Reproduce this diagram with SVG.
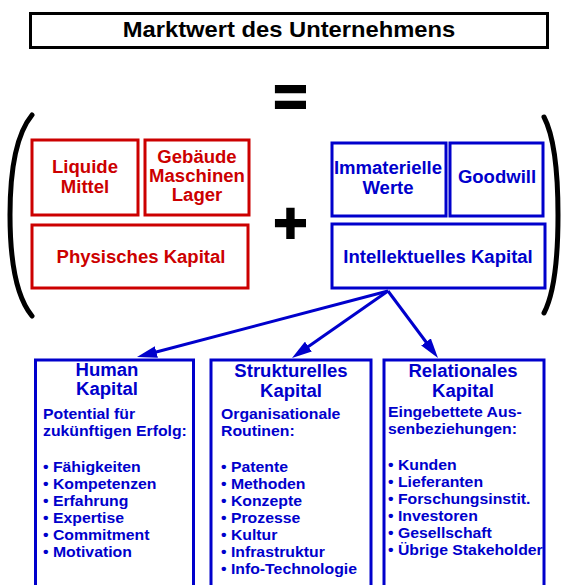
<svg xmlns="http://www.w3.org/2000/svg" width="562" height="585" viewBox="0 0 562 585">
  <style>
    text { font-family: "Liberation Sans", Arial, sans-serif; font-weight: bold; }
    .box-red { fill: #fff; stroke: #cc0000; stroke-width: 3; }
    .box-blue { fill: #fff; stroke: #0000cc; stroke-width: 3; }
    .lbl-red { fill: #cc0000; font-size: 17.5px; text-anchor: middle; }
    .lbl-blue { fill: #0000cc; font-size: 17.5px; text-anchor: middle; }
    .head { fill: #0000cc; font-size: 17.5px; text-anchor: middle; }
    .body { fill: #0000cc; font-size: 14.5px; }
    .paren { fill: none; stroke: #000; stroke-width: 5; stroke-linecap: round; }
    .op { fill: #000; stroke: #000; stroke-width: 2; font-size: 58px; text-anchor: middle; }
    .conn { stroke: #0000cc; stroke-width: 3; fill: none; marker-end: url(#arrow); }
  </style>
  <defs>
    <marker id="arrow" markerUnits="userSpaceOnUse" markerWidth="20" markerHeight="12" refX="10" refY="6" orient="auto">
      <path d="M0,0 L20,6 L0,12 z" fill="#0000cc"/>
    </marker>
  </defs>

  <rect width="562" height="585" fill="#fff"/>

  <!-- Title -->
  <g id="marktwert">
    <rect x="30.5" y="13.5" width="517" height="34" fill="#fff" stroke="#000" stroke-width="3"/>
    <text transform="translate(289 0) scale(1.08 1)" x="0" y="37.5" font-size="22" text-anchor="middle" fill="#000">Marktwert des Unternehmens</text>
  </g>

  <!-- Operators -->
  <g id="equals"><text class="op" x="290.5" y="116">=</text></g>
  <g id="plus"><text class="op" x="290.5" y="242.5">+</text></g>

  <!-- Brackets -->
  <g id="brackets">
    <path class="paren" d="M32,115 C13,138 10,180 10,215 C10,250 13,293 32,316"/>
    <path class="paren" d="M544,117 C555,138 558,180 558,215 C558,250 555,292 544,313"/>
  </g>

  <!-- Physical capital -->
  <g id="liquide-mittel">
    <rect class="box-red" x="32" y="140" width="106" height="75"/>
    <text class="lbl-red" transform="translate(85 0) scale(1.06 1)" x="0" y="173">Liquide</text>
    <text class="lbl-red" transform="translate(85 0) scale(1.06 1)" x="0" y="193">Mittel</text>
  </g>
  <g id="gebaeude">
    <rect class="box-red" x="145" y="140" width="104" height="75"/>
    <text class="lbl-red" transform="translate(197 0) scale(1.06 1)" x="0" y="163">Gebäude</text>
    <text class="lbl-red" transform="translate(197 0) scale(1.06 1)" x="0" y="182">Maschinen</text>
    <text class="lbl-red" transform="translate(197 0) scale(1.06 1)" x="0" y="201">Lager</text>
  </g>
  <g id="physisches-kapital">
    <rect class="box-red" x="32" y="225" width="216" height="63"/>
    <text class="lbl-red" transform="translate(141 0) scale(1.06 1)" x="0" y="263">Physisches Kapital</text>
  </g>

  <!-- Intellectual capital -->
  <g id="immaterielle-werte">
    <rect class="box-blue" x="332" y="143" width="114" height="73"/>
    <text class="lbl-blue" transform="translate(388 0) scale(1.06 1)" x="0" y="174">Immaterielle</text>
    <text class="lbl-blue" transform="translate(388 0) scale(1.06 1)" x="0" y="194">Werte</text>
  </g>
  <g id="goodwill">
    <rect class="box-blue" x="450" y="143" width="93" height="73"/>
    <text class="lbl-blue" transform="translate(497 0) scale(1.06 1)" x="0" y="183">Goodwill</text>
  </g>
  <g id="intellektuelles-kapital">
    <rect class="box-blue" x="332" y="224" width="213" height="64"/>
    <text class="lbl-blue" transform="translate(438 0) scale(1.06 1)" x="0" y="263">Intellektuelles Kapital</text>
  </g>

  <!-- Connectors -->
  <g id="connectors">
    <line class="conn" x1="388" y1="291" x2="146.7" y2="354.5"/>
    <line class="conn" x1="388" y1="291" x2="300.2" y2="352.3"/>
    <line class="conn" x1="388" y1="291" x2="432" y2="350"/>
  </g>

  <!-- Human capital -->
  <g id="human-kapital">
    <rect class="box-blue" x="35.5" y="360" width="158" height="240"/>
    <text class="head" transform="translate(107 0) scale(1.06 1)" x="0" y="376">Human</text>
    <text class="head" transform="translate(107 0) scale(1.06 1)" x="0" y="395">Kapital</text>
    <g transform="translate(43 0) scale(1.09 1)">
      <text class="body" x="0" y="419">Potential für</text>
      <text class="body" x="0" y="436">zukünftigen Erfolg:</text>
      <text class="body" x="0" y="472">• Fähigkeiten</text>
      <text class="body" x="0" y="489">• Kompetenzen</text>
      <text class="body" x="0" y="506">• Erfahrung</text>
      <text class="body" x="0" y="523">• Expertise</text>
      <text class="body" x="0" y="540">• Commitment</text>
      <text class="body" x="0" y="557">• Motivation</text>
    </g>
  </g>

  <!-- Structural capital -->
  <g id="strukturelles-kapital">
    <rect class="box-blue" x="211" y="360" width="160" height="240"/>
    <text class="head" transform="translate(291 0) scale(1.06 1)" x="0" y="377">Strukturelles</text>
    <text class="head" transform="translate(291 0) scale(1.06 1)" x="0" y="397">Kapital</text>
    <g transform="translate(221 0) scale(1.09 1)">
      <text class="body" x="0" y="419">Organisationale</text>
      <text class="body" x="0" y="436">Routinen:</text>
      <text class="body" x="0" y="472">• Patente</text>
      <text class="body" x="0" y="489">• Methoden</text>
      <text class="body" x="0" y="506">• Konzepte</text>
      <text class="body" x="0" y="523">• Prozesse</text>
      <text class="body" x="0" y="540">• Kultur</text>
      <text class="body" x="0" y="557">• Infrastruktur</text>
      <text class="body" x="0" y="574">• Info-Technologie</text>
    </g>
  </g>

  <!-- Relational capital -->
  <g id="relationales-kapital">
    <rect class="box-blue" x="384" y="360" width="160" height="240"/>
    <text class="head" transform="translate(463 0) scale(1.06 1)" x="0" y="377">Relationales</text>
    <text class="head" transform="translate(463 0) scale(1.06 1)" x="0" y="397">Kapital</text>
    <g transform="translate(388 0) scale(1.09 1)">
      <text class="body" x="0" y="417">Eingebettete Aus-</text>
      <text class="body" x="0" y="434">senbeziehungen:</text>
      <text class="body" x="0" y="470">• Kunden</text>
      <text class="body" x="0" y="487">• Lieferanten</text>
      <text class="body" x="0" y="504">• Forschungsinstit.</text>
      <text class="body" x="0" y="521">• Investoren</text>
      <text class="body" x="0" y="538">• Gesellschaft</text>
      <text class="body" x="0" y="555">• Übrige Stakeholder</text>
    </g>
  </g>
</svg>
